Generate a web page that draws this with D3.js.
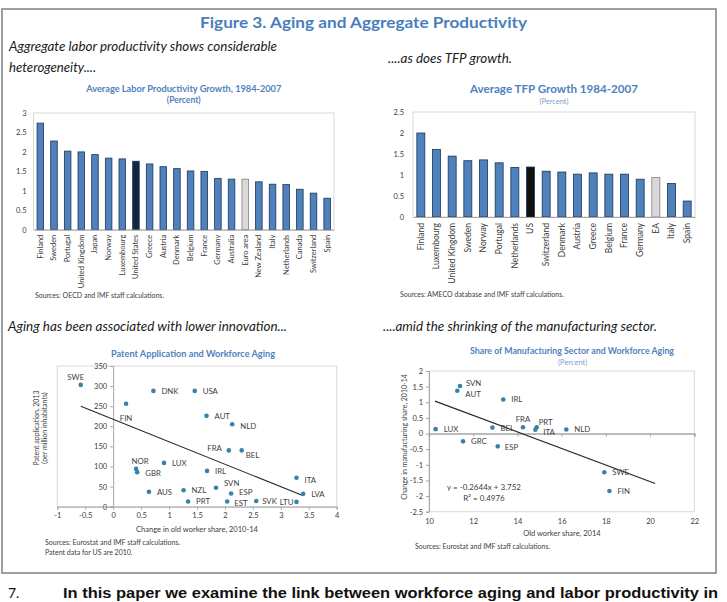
<!DOCTYPE html>
<html>
<head>
<meta charset="utf-8">
<script src="https://cdn.jsdelivr.net/npm/d3@7"></script>
<style>
body { margin: 0; background: #fff; }
svg { display: block; font-family: Lato, "Open Sans", sans-serif; }
</style>
</head>
<body>
<div id="chart"></div>
<script>

/* -----------------------
data
------------------------- */

var laborCountries = ["Finland","Sweden","Portugal","United Kingdom","Japan","Norway","Luxembourg","United States",
	"Greece","Austria","Denmark","Belgium","France","Germany","Australia","Euro area","New Zealand","Italy",
	"Netherlands","Canada","Switzerland","Spain"];
var laborValues = [2.74,2.28,2.02,2.00,1.93,1.84,1.82,1.76,1.69,1.62,1.57,1.51,1.50,1.32,1.30,1.30,1.23,1.17,1.16,1.04,0.94,0.81];
var laborTicks = [0,0.5,1,1.5,2,2.5,3];

var tfpCountries = ["Finland","Luxembourg","United Kingdom","Sweden","Norway","Portugal","Netherlands","US",
	"Switzerland","Denmark","Austria","Greece","Belgium","France","Germany","EA","Italy","Spain"];
var tfpValues = [2.00,1.61,1.45,1.34,1.36,1.29,1.18,1.19,1.09,1.07,1.02,1.05,1.02,1.02,0.90,0.94,0.80,0.38];
var tfpTicks = [0,0.5,1,1.5,2,2.5];

var patentCodes = ["SWE","FIN","DNK","USA","AUT","NLD","FRA","BEL","NOR","GBR","LUX","IRL","ITA","AUS","NZL","SVN","ESP","LVA","PRT","EST","SVK","LTU"];
var patentOldShare = [-0.58,0.23,0.72,1.46,1.67,2.13,2.07,2.30,0.41,0.43,0.91,1.68,3.28,0.64,1.26,1.84,2.11,3.40,1.34,2.04,2.56,3.28];
var patentValues = [303,256,288,288,226,205,140,140,94,86,109,89,72,37,41,47,33,32,13,13,14,12];
var patentTrendX = [-0.58,3.38];
var patentTrendY = [249.8,28.4];
var patentXTicks = [-1,-0.5,0,0.5,1,1.5,2,2.5,3,3.5,4];
var patentYTicks = [0,50,100,150,200,250,300,350];

var manufCodes = ["SVN","AUT","IRL","LUX","BEL","FRA","PRT","ITA","NLD","GRC","ESP","SWE","FIN"];
var manufOldShare = [11.40,11.28,13.36,10.30,12.87,14.25,14.87,14.81,16.21,11.54,13.11,17.93,18.16];
var manufChange = [1.52,1.37,1.09,0.14,0.19,0.20,0.20,0.12,0.13,-0.25,-0.41,-1.24,-1.84];
var manufSlope = -0.2644;
var manufIntercept = 3.752;
var manufR2 = 0.4976;
var manufTrendX = [10.27,20.23];
var manufXTicks = [10,12,14,16,18,20,22];
var manufYTicks = [-2.5,-2,-1.5,-1,-0.5,0,0.5,1,1.5,2];

/* -----------------------
main variables
------------------------- */

var width = 727;
var height = 602;
var blue = "#4f81bd";
var dotColor = "#3584a8";
var txt = "#404040";
var gridGrey = "#d9d9d9";

var svg = d3.select("#chart")
	.append("svg")
	.attr("width", width)
	.attr("height", height);

// frame
svg.append("rect")
	.attr("x", 2).attr("y", 9)
	.attr("width", 714).attr("height", 564)
	.attr("fill", "none")
	.attr("stroke", "#808080")
	.attr("stroke-width", 1.5);

function addText(x, y, s, opts) {
	var t = svg.append("text")
		.attr("x", x).attr("y", y)
		.text(s)
		.attr("font-size", opts.size || 8)
		.attr("fill", opts.color || txt)
		.attr("text-anchor", opts.anchor || "start");
	if (opts.weight) t.attr("font-weight", opts.weight);
	if (opts.italic) t.attr("font-style", "italic");
	if (opts.len) t.attr("textLength", opts.len).attr("lengthAdjust", "spacingAndGlyphs");
	if (opts.family) t.attr("font-family", opts.family);
	return t;
}

/* --- headings --- */
addText(363.5, 28, "Figure 3. Aging and Aggregate Productivity", {size: 16, weight: "bold", color: "#4a7ebb", anchor: "middle", len: 327});
addText(9, 51, "Aggregate labor productivity shows considerable", {size: 13, italic: true, color: "#1a1a1a", len: 268});
addText(9, 72, "heterogeneity....", {size: 13, italic: true, color: "#1a1a1a", len: 87});
addText(388, 63, "....as does TFP growth.", {size: 13, italic: true, color: "#1a1a1a", len: 124});
addText(8, 331, "Aging has been associated with lower innovation...", {size: 13, italic: true, color: "#1a1a1a", len: 279});
addText(383, 331, "....amid the shrinking of the manufacturing sector.", {size: 13, italic: true, color: "#1a1a1a", len: 274});

/* -----------------------
bar charts
------------------------- */

function drawBars(c) {
	var x = d3.scaleBand().domain(c.names).range([c.x0, c.x1]).paddingInner(c.pad).paddingOuter(c.pad / 2);
	var y = d3.scaleLinear().domain([0, c.max]).range([c.y1, c.y0]);
	var g = svg.append("g");

	g.append("rect")
		.attr("x", c.x0).attr("y", c.y0)
		.attr("width", c.x1 - c.x0).attr("height", c.y1 - c.y0)
		.attr("fill", "none").attr("stroke", gridGrey).attr("stroke-width", 1);

	g.selectAll(".bar")
		.data(c.values)
		.enter()
		.append("rect")
		.attr("class", "bar")
		.attr("x", function (d, i) { return x(c.names[i]); })
		.attr("y", function (d) { return y(d); })
		.attr("width", x.bandwidth())
		.attr("height", function (d) { return y(0) - y(d); })
		.attr("fill", function (d, i) {
			if (c.names[i] == c.dark) return c.darkColor;
			if (c.names[i] == c.grey) return "#d9d9d9";
			return blue;
		})
		.attr("stroke", function (d, i) {
			if (c.names[i] == c.grey) return "#808080";
			return "#1c3553";
		})
		.attr("stroke-width", 0.8);

	var ya = g.append("g")
		.attr("transform", "translate(" + c.x0 + ",0)")
		.call(d3.axisLeft(y).tickValues(c.ticks).tickSize(0).tickPadding(c.tickPad).tickFormat(function (d) { return String(d); }));
	ya.select(".domain").remove();
	ya.selectAll("text").attr("font-size", 7.5).attr("fill", txt).attr("font-family", "Lato, sans-serif");

	var xa = g.append("g")
		.attr("transform", "translate(0," + c.y1 + ")")
		.call(d3.axisBottom(x).tickSize(0));
	xa.select(".domain").attr("stroke", "#a6a6a6");
	xa.selectAll("text")
		.attr("font-size", c.labelSize).attr("fill", txt).attr("font-family", "Lato, sans-serif")
		.attr("transform", "rotate(-90)")
		.attr("text-anchor", "end")
		.attr("x", -c.labelGap).attr("y", 0).attr("dy", "0.32em");

	addText((c.x0 + c.x1) / 2, c.titleY, c.title, {size: c.titleSize, weight: "bold", color: blue, anchor: "middle", len: c.titleLen});
	addText((c.x0 + c.x1) / 2, c.titleY + 11, "(Percent)", c.sub);
	addText(c.srcX, c.srcY, c.source, {size: 7, color: txt});
}

drawBars({
	names: laborCountries, values: laborValues, ticks: laborTicks, max: 3,
	x0: 33.5, x1: 334, y0: 113, y1: 229.7, pad: 0.52, tickPad: 7,
	dark: "United States", darkColor: "#12263f", grey: "Euro area",
	labelSize: 7.5, labelGap: 5,
	title: "Average Labor Productivity Growth, 1984-2007", titleY: 92, titleSize: 8.5, titleLen: 195,
	sub: {size: 8.5, weight: "bold", color: blue, anchor: "middle"},
	source: "Sources: OECD and IMF staff calculations.", srcX: 35, srcY: 298
});

drawBars({
	names: tfpCountries, values: tfpValues, ticks: tfpTicks, max: 2.5,
	x0: 413, x1: 695, y0: 112, y1: 217, pad: 0.49, tickPad: 9,
	dark: "US", darkColor: "#111111", grey: "EA",
	labelSize: 8.5, labelGap: 6,
	title: "Average TFP Growth 1984-2007", titleY: 93, titleSize: 11, titleLen: 168,
	sub: {size: 7.5, color: "#7f9fc8", anchor: "middle"},
	source: "Sources: AMECO database and IMF staff calculations.", srcX: 400, srcY: 297
});

/* -----------------------
scatter plots
------------------------- */

var patentPlace = {
	SWE: [-5, -5, "middle"], FIN: [0, 17, "middle"], FRA: [-7, 1, "end"], BEL: [4, 8, "start"],
	NOR: [4, -5, "middle"], LTU: [-3, 3, "end"], SVK: [6, 3, "start"], NLD: [8, 5, "start"], ITA: [8, 5, "start"],
	SVN: [8, -2, "start"], ESP: [8, 2, "start"], EST: [7, 4.5, "start"], GBR: [8, 4, "start"]
};
var manufPlace = {
	FRA: [0, -5, "middle"], PRT: [2, -2, "start"], ITA: [8, 5.5, "start"], SVN: [6, 0, "start"],
	AUT: [8, 6.5, "start"], ESP: [7, 4, "start"]
};

function drawScatter(c) {
	var x = d3.scaleLinear().domain(c.xDomain).range([c.x0, c.x1]);
	var y = d3.scaleLinear().domain(c.yDomain).range([c.y1, c.y0]);
	var g = svg.append("g");

	g.append("rect")
		.attr("x", c.x0).attr("y", c.y0)
		.attr("width", c.x1 - c.x0).attr("height", c.y1 - c.y0)
		.attr("fill", "none").attr("stroke", gridGrey).attr("stroke-width", 1);

	// y axis
	var ya = g.append("g")
		.attr("transform", "translate(" + x(c.yAxisAt) + ",0)")
		.call(d3.axisLeft(y).tickValues(c.yTicks).tickSize(3).tickPadding(3).tickFormat(function (d) { return String(d); }));
	ya.select(".domain").attr("stroke", "#a6a6a6");
	ya.selectAll(".tick line").attr("stroke", "#a6a6a6");
	ya.selectAll("text").attr("font-size", 7.5).attr("fill", txt).attr("font-family", "Lato, sans-serif");

	// x axis
	var xa = g.append("g")
		.attr("transform", "translate(0," + y(c.xAxisAt) + ")")
		.call(d3.axisBottom(x).tickValues(c.xTicks).tickSize(3).tickPadding(3).tickFormat(function (d) { return String(d); }));
	xa.select(".domain").attr("stroke", "#a6a6a6").attr("stroke-width", c.zeroWidth);
	xa.selectAll(".tick line").attr("stroke", "#a6a6a6");
	xa.selectAll("text").attr("font-size", 7.5).attr("fill", txt).attr("font-family", "Lato, sans-serif");
	if (c.xLabelsBottom) {
		xa.selectAll("text").attr("y", y.range()[0] - y(c.xAxisAt) + 7);
	}

	// trend
	g.append("line")
		.attr("x1", x(c.trendX[0])).attr("y1", y(c.trendY[0]))
		.attr("x2", x(c.trendX[1])).attr("y2", y(c.trendY[1]))
		.attr("stroke", "#262626").attr("stroke-width", 1.1);

	// dots
	g.selectAll(".dot")
		.data(c.codes)
		.enter()
		.append("circle")
		.attr("class", "dot")
		.attr("cx", function (d, i) { return x(c.xs[i]); })
		.attr("cy", function (d, i) { return y(c.ys[i]); })
		.attr("r", 2.3)
		.attr("fill", dotColor);

	g.selectAll(".lab")
		.data(c.codes)
		.enter()
		.append("text")
		.attr("class", "lab")
		.attr("x", function (d, i) { var p = c.place[d] || [8, 3, "start"]; return x(c.xs[i]) + p[0]; })
		.attr("y", function (d, i) { var p = c.place[d] || [8, 3, "start"]; return y(c.ys[i]) + p[1]; })
		.attr("text-anchor", function (d) { var p = c.place[d] || [8, 3, "start"]; return p[2]; })
		.attr("font-size", 7.8)
		.attr("fill", txt)
		.text(function (d) { return d; });

	addText(c.titleX, c.titleY, c.title, {size: 8.5, weight: "bold", color: blue, anchor: "middle", len: c.titleLen});
	addText(c.xTitleX, c.xTitleY, c.xTitle, {size: 7.5, anchor: "middle"});
	c.yTitle.forEach(function (s, i) {
		svg.append("text")
			.attr("transform", "translate(" + c.yTitleX[i] + "," + c.yTitleY + ") rotate(-90)")
			.attr("text-anchor", "middle")
			.attr("font-size", 7)
			.attr("fill", txt)
			.text(s);
	});
	c.source.forEach(function (s, i) {
		addText(c.srcX, c.srcY + i * 9.5, s, {size: 7});
	});
}

drawScatter({
	codes: patentCodes, xs: patentOldShare, ys: patentValues, place: patentPlace,
	xDomain: [-1, 4], yDomain: [0, 350], xTicks: patentXTicks, yTicks: patentYTicks,
	x0: 57.3, x1: 336.7, y0: 366, y1: 506.7, yAxisAt: 0, xAxisAt: 0, zeroWidth: 1,
	trendX: patentTrendX, trendY: patentTrendY,
	title: "Patent Application  and  Workforce  Aging", titleX: 193, titleY: 357, titleLen: 164,
	xTitle: "Change in old worker share, 2010-14", xTitleX: 197, xTitleY: 531.5,
	yTitle: ["Patent application, 2013", "(per million inhabitants)"], yTitleX: [39, 47], yTitleY: 428,
	source: ["Sources: Eurostat and IMF staff calculations.", "Patent data for US are 2010."], srcX: 45, srcY: 545
});

drawScatter({
	codes: manufCodes, xs: manufOldShare, ys: manufChange, place: manufPlace,
	xDomain: [10, 22], yDomain: [-2.5, 2], xTicks: manufXTicks, yTicks: manufYTicks,
	x0: 429, x1: 694.3, y0: 371, y1: 511.7, yAxisAt: 10, xAxisAt: 0, zeroWidth: 1.6, xLabelsBottom: true,
	trendX: manufTrendX,
	trendY: manufTrendX.map(function (v) { return manufSlope * v + manufIntercept; }),
	title: "Share of Manufacturing  Sector  and  Workforce  Aging", titleX: 572, titleY: 353.5, titleLen: 204,
	xTitle: "Old worker share, 2014", xTitleX: 562, xTitleY: 535.5,
	yTitle: ["Change in manufacturing share, 2010-14"], yTitleX: [407], yTitleY: 437,
	source: ["Sources: Eurostat and IMF staff calculations."], srcX: 415, srcY: 549
});
addText(572.7, 365, "(Percent)", {size: 7.5, color: "#7f9fc8", anchor: "middle"});

addText(484, 490, "y = " + manufSlope + "x + " + manufIntercept, {size: 8, anchor: "middle"});
addText(484, 500.5, "R\u00b2 = " + manufR2, {size: 8, anchor: "middle"});

/* --- paragraph --- */
addText(8, 598, "7.", {size: 14, color: "#111"});
addText(63, 598, "In this paper we examine the link between workforce aging and labor productivity in",
	{size: 14, weight: "bold", color: "#111", len: 655, family: "'Liberation Sans Narrow', 'Liberation Sans', sans-serif"});

</script>
</body>
</html>
